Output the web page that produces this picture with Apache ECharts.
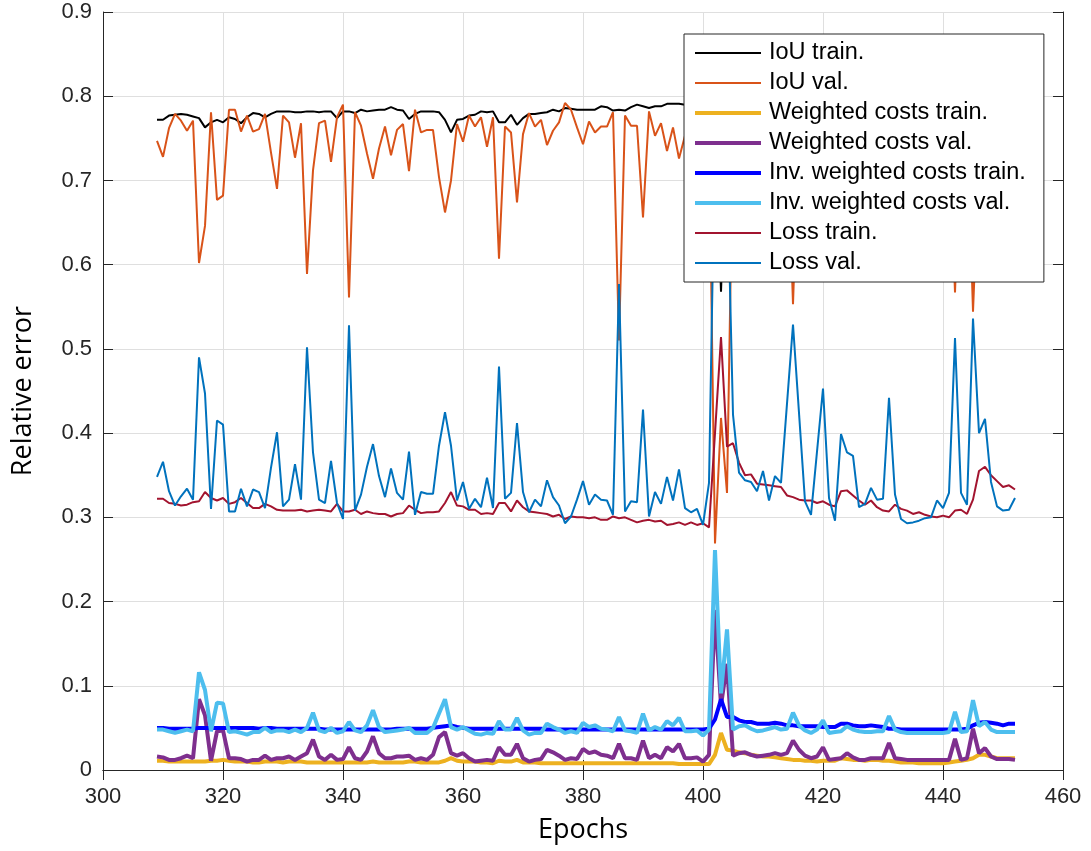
<!DOCTYPE html>
<html>

<head>
	<meta charset="utf-8">
	<title>Relative error</title>
	<script src="https://cdn.jsdelivr.net/npm/echarts@6/dist/echarts.min.js"></script>
	<style>
		html, body { margin: 0; padding: 0; background: #fff; }
		#main { width: 1091px; height: 851px; }
	</style>
</head>

<body>
	<div id="main"></div>

	<script>
		// epochs 309 .. 452
		var firstEpoch = 309;

		var iouTrain = [
			0.772, 0.772, 0.777, 0.778, 0.779, 0.778, 0.776, 0.774, 0.763, 0.769,
			0.772, 0.769, 0.775, 0.773, 0.768, 0.775, 0.780, 0.779, 0.775, 0.779,
			0.782, 0.782, 0.782, 0.781, 0.781, 0.782, 0.782, 0.781, 0.782, 0.782,
			0.774, 0.782, 0.782, 0.780, 0.784, 0.782, 0.783, 0.784, 0.784, 0.787,
			0.784, 0.783, 0.773, 0.779, 0.782, 0.782, 0.782, 0.781, 0.772, 0.757,
			0.772, 0.773, 0.777, 0.778, 0.782, 0.781, 0.782, 0.769, 0.769, 0.778,
			0.766, 0.774, 0.779, 0.779, 0.780, 0.781, 0.784, 0.782, 0.786, 0.785,
			0.784, 0.784, 0.784, 0.784, 0.788, 0.787, 0.783, 0.784, 0.783, 0.787,
			0.790, 0.788, 0.786, 0.788, 0.788, 0.791, 0.791, 0.791, 0.790, 0.792,
			0.791, 0.793, 0.790, 0.780, 0.568, 0.778, 0.785, 0.788, 0.790, 0.791,
			0.792, 0.792, 0.793, 0.791, 0.794, 0.793, 0.790, 0.794, 0.795, 0.795,
			0.794, 0.795, 0.796, 0.796, 0.793, 0.794, 0.796, 0.797, 0.796, 0.797,
			0.797, 0.798, 0.794, 0.797, 0.798, 0.798, 0.799, 0.799, 0.799, 0.800,
			0.799, 0.800, 0.800, 0.795, 0.799, 0.800, 0.794, 0.796, 0.797, 0.798,
			0.799, 0.799, 0.800, 0.800
		];
		var iouVal = [
			0.747, 0.728, 0.762, 0.779, 0.771, 0.759, 0.771, 0.602, 0.646, 0.781,
			0.677, 0.682, 0.784, 0.784, 0.758, 0.777, 0.758, 0.761, 0.779, 0.733,
			0.690, 0.777, 0.769, 0.727, 0.768, 0.589, 0.712, 0.768, 0.771, 0.722,
			0.775, 0.790, 0.561, 0.781, 0.765, 0.732, 0.702, 0.738, 0.764, 0.730,
			0.760, 0.767, 0.711, 0.784, 0.757, 0.760, 0.760, 0.704, 0.662, 0.700,
			0.767, 0.746, 0.777, 0.764, 0.775, 0.740, 0.775, 0.607, 0.764, 0.757,
			0.674, 0.755, 0.780, 0.764, 0.772, 0.742, 0.759, 0.769, 0.792, 0.784,
			0.763, 0.743, 0.770, 0.757, 0.764, 0.764, 0.781, 0.510, 0.777, 0.765,
			0.765, 0.656, 0.782, 0.753, 0.768, 0.735, 0.763, 0.726, 0.753, 0.772,
			0.748, 0.765, 0.760, 0.269, 0.418, 0.329, 0.755, 0.770, 0.742, 0.768,
			0.775, 0.738, 0.770, 0.762, 0.735, 0.772, 0.553, 0.768, 0.780, 0.745,
			0.770, 0.730, 0.776, 0.779, 0.750, 0.764, 0.772, 0.748, 0.778, 0.770,
			0.760, 0.781, 0.715, 0.774, 0.780, 0.782, 0.778, 0.783, 0.776, 0.784,
			0.770, 0.781, 0.775, 0.567, 0.770, 0.778, 0.544, 0.725, 0.741, 0.770,
			0.779, 0.781, 0.779, 0.776
		];
		var wcTrain = [
			0.011, 0.011, 0.010, 0.010, 0.010, 0.010, 0.010, 0.010, 0.010, 0.011,
			0.011, 0.012, 0.011, 0.010, 0.010, 0.010, 0.009, 0.009, 0.010, 0.010,
			0.010, 0.009, 0.010, 0.010, 0.010, 0.009, 0.009, 0.009, 0.009, 0.009,
			0.009, 0.009, 0.009, 0.009, 0.009, 0.009, 0.010, 0.009, 0.009, 0.009,
			0.009, 0.009, 0.010, 0.010, 0.009, 0.009, 0.009, 0.009, 0.011, 0.014,
			0.011, 0.010, 0.010, 0.010, 0.009, 0.009, 0.008, 0.011, 0.010, 0.010,
			0.012, 0.009, 0.009, 0.009, 0.008, 0.008, 0.008, 0.008, 0.008, 0.008,
			0.008, 0.008, 0.008, 0.008, 0.008, 0.008, 0.008, 0.008, 0.008, 0.008,
			0.008, 0.008, 0.008, 0.008, 0.008, 0.008, 0.008, 0.007, 0.007, 0.007,
			0.007, 0.007, 0.007, 0.018, 0.044, 0.024, 0.023, 0.021, 0.020, 0.018,
			0.017, 0.016, 0.016, 0.015, 0.014, 0.013, 0.012, 0.012, 0.011, 0.011,
			0.010, 0.011, 0.011, 0.011, 0.014, 0.013, 0.012, 0.012, 0.011, 0.012,
			0.012, 0.011, 0.011, 0.010, 0.009, 0.009, 0.009, 0.008, 0.008, 0.008,
			0.008, 0.008, 0.009, 0.010, 0.011, 0.012, 0.014, 0.018, 0.018, 0.016,
			0.014, 0.014, 0.014, 0.014
		];
		var wcVal = [
			0.016, 0.015, 0.012, 0.012, 0.014, 0.017, 0.014, 0.084, 0.065, 0.011,
			0.046, 0.047, 0.014, 0.014, 0.013, 0.010, 0.012, 0.012, 0.017, 0.012,
			0.014, 0.014, 0.016, 0.012, 0.016, 0.020, 0.036, 0.016, 0.012, 0.018,
			0.012, 0.013, 0.027, 0.014, 0.012, 0.022, 0.040, 0.020, 0.014, 0.014,
			0.016, 0.016, 0.017, 0.012, 0.014, 0.012, 0.018, 0.039, 0.045, 0.020,
			0.017, 0.020, 0.014, 0.010, 0.011, 0.012, 0.011, 0.027, 0.018, 0.018,
			0.031, 0.014, 0.010, 0.012, 0.013, 0.024, 0.021, 0.017, 0.012, 0.014,
			0.013, 0.025, 0.020, 0.022, 0.018, 0.017, 0.014, 0.031, 0.014, 0.014,
			0.012, 0.035, 0.014, 0.018, 0.014, 0.027, 0.022, 0.031, 0.014, 0.014,
			0.015, 0.010, 0.018, 0.190, 0.077, 0.126, 0.017, 0.020, 0.021, 0.018,
			0.016, 0.017, 0.018, 0.020, 0.018, 0.020, 0.035, 0.024, 0.017, 0.014,
			0.016, 0.027, 0.012, 0.013, 0.014, 0.020, 0.015, 0.012, 0.012, 0.014,
			0.014, 0.014, 0.032, 0.014, 0.013, 0.012, 0.012, 0.012, 0.012, 0.012,
			0.012, 0.012, 0.012, 0.037, 0.012, 0.014, 0.049, 0.020, 0.026, 0.016,
			0.013, 0.013, 0.013, 0.012
		];
		var invTrain = [
			0.050, 0.050, 0.049, 0.049, 0.049, 0.049, 0.049, 0.050, 0.050, 0.050,
			0.050, 0.050, 0.050, 0.050, 0.050, 0.050, 0.050, 0.049, 0.050, 0.050,
			0.049, 0.049, 0.049, 0.049, 0.049, 0.049, 0.049, 0.049, 0.048, 0.048,
			0.048, 0.048, 0.048, 0.048, 0.048, 0.048, 0.048, 0.048, 0.048, 0.048,
			0.049, 0.049, 0.049, 0.049, 0.049, 0.049, 0.050, 0.051, 0.052, 0.053,
			0.051, 0.050, 0.049, 0.049, 0.049, 0.049, 0.049, 0.049, 0.049, 0.049,
			0.049, 0.049, 0.049, 0.049, 0.049, 0.048, 0.048, 0.048, 0.048, 0.048,
			0.048, 0.048, 0.048, 0.048, 0.048, 0.048, 0.048, 0.048, 0.048, 0.048,
			0.048, 0.048, 0.048, 0.048, 0.048, 0.048, 0.048, 0.048, 0.048, 0.048,
			0.048, 0.048, 0.049, 0.060, 0.084, 0.063, 0.063, 0.059, 0.057, 0.057,
			0.055, 0.055, 0.055, 0.056, 0.055, 0.053, 0.053, 0.052, 0.052, 0.052,
			0.052, 0.051, 0.051, 0.051, 0.055, 0.055, 0.053, 0.052, 0.052, 0.053,
			0.052, 0.051, 0.049, 0.049, 0.048, 0.048, 0.048, 0.048, 0.048, 0.048,
			0.048, 0.048, 0.048, 0.048, 0.048, 0.049, 0.053, 0.056, 0.057, 0.056,
			0.055, 0.053, 0.055, 0.055
		];
		var invVal = [
			0.048, 0.048, 0.046, 0.044, 0.046, 0.048, 0.046, 0.116, 0.095, 0.046,
			0.080, 0.079, 0.045, 0.046, 0.044, 0.042, 0.045, 0.045, 0.050, 0.045,
			0.047, 0.047, 0.045, 0.048, 0.045, 0.050, 0.068, 0.047, 0.045, 0.050,
			0.044, 0.046, 0.057, 0.047, 0.045, 0.053, 0.071, 0.051, 0.045, 0.046,
			0.047, 0.048, 0.050, 0.044, 0.044, 0.044, 0.050, 0.067, 0.084, 0.051,
			0.048, 0.051, 0.047, 0.043, 0.042, 0.044, 0.043, 0.058, 0.048, 0.048,
			0.062, 0.047, 0.042, 0.044, 0.044, 0.055, 0.051, 0.048, 0.044, 0.046,
			0.044, 0.056, 0.051, 0.053, 0.049, 0.048, 0.046, 0.063, 0.047, 0.046,
			0.044, 0.067, 0.047, 0.051, 0.048, 0.058, 0.053, 0.062, 0.046, 0.046,
			0.047, 0.041, 0.048, 0.261, 0.091, 0.167, 0.048, 0.052, 0.053, 0.049,
			0.046, 0.047, 0.049, 0.051, 0.048, 0.049, 0.068, 0.053, 0.047, 0.044,
			0.048, 0.059, 0.044, 0.045, 0.046, 0.052, 0.048, 0.046, 0.045, 0.045,
			0.046, 0.046, 0.064, 0.048, 0.045, 0.044, 0.044, 0.044, 0.044, 0.044,
			0.044, 0.044, 0.045, 0.069, 0.045, 0.046, 0.083, 0.052, 0.057, 0.048,
			0.045, 0.045, 0.045, 0.045
		];
		var lossTrain = [
			0.322, 0.322, 0.317, 0.316, 0.314, 0.315, 0.318, 0.319, 0.330, 0.323,
			0.320, 0.323, 0.316, 0.318, 0.323, 0.317, 0.311, 0.311, 0.316, 0.313,
			0.309, 0.308, 0.308, 0.308, 0.309, 0.307, 0.308, 0.309, 0.308, 0.307,
			0.316, 0.307, 0.307, 0.309, 0.304, 0.307, 0.305, 0.304, 0.304, 0.301,
			0.304, 0.305, 0.314, 0.309, 0.305, 0.306, 0.306, 0.307, 0.317, 0.330,
			0.314, 0.313, 0.309, 0.309, 0.304, 0.305, 0.304, 0.317, 0.317, 0.307,
			0.320, 0.312, 0.307, 0.306, 0.305, 0.304, 0.301, 0.303, 0.298, 0.301,
			0.300, 0.300, 0.299, 0.300, 0.297, 0.297, 0.301, 0.299, 0.300, 0.297,
			0.294, 0.296, 0.297, 0.295, 0.296, 0.291, 0.292, 0.294, 0.291, 0.294,
			0.291, 0.293, 0.288, 0.400, 0.514, 0.384, 0.388, 0.365, 0.350, 0.351,
			0.340, 0.339, 0.338, 0.337, 0.336, 0.326, 0.324, 0.321, 0.320, 0.320,
			0.317, 0.319, 0.315, 0.313, 0.331, 0.332, 0.326, 0.320, 0.315, 0.320,
			0.312, 0.308, 0.307, 0.315, 0.310, 0.308, 0.304, 0.306, 0.303, 0.301,
			0.300, 0.302, 0.300, 0.308, 0.309, 0.304, 0.321, 0.355, 0.360, 0.350,
			0.343, 0.336, 0.338, 0.333
		];
		var lossVal = [
			0.348, 0.366, 0.331, 0.314, 0.325, 0.334, 0.321, 0.490, 0.447, 0.310,
			0.415, 0.410, 0.307, 0.307, 0.334, 0.313, 0.333, 0.330, 0.311, 0.359,
			0.401, 0.313, 0.321, 0.363, 0.321, 0.502, 0.377, 0.321, 0.317, 0.367,
			0.317, 0.298, 0.528, 0.308, 0.327, 0.360, 0.387, 0.349, 0.324, 0.358,
			0.329, 0.321, 0.378, 0.303, 0.330, 0.328, 0.328, 0.385, 0.425, 0.385,
			0.320, 0.342, 0.310, 0.322, 0.312, 0.347, 0.311, 0.479, 0.322, 0.329,
			0.412, 0.330, 0.306, 0.321, 0.313, 0.344, 0.324, 0.314, 0.293, 0.301,
			0.321, 0.343, 0.315, 0.327, 0.321, 0.320, 0.303, 0.577, 0.307, 0.319,
			0.318, 0.428, 0.301, 0.330, 0.316, 0.348, 0.320, 0.357, 0.311, 0.306,
			0.310, 0.291, 0.341, 0.750, 0.660, 0.720, 0.422, 0.353, 0.344, 0.342,
			0.331, 0.355, 0.320, 0.349, 0.341, 0.435, 0.529, 0.424, 0.319, 0.303,
			0.378, 0.453, 0.323, 0.296, 0.399, 0.377, 0.373, 0.312, 0.316, 0.335,
			0.321, 0.322, 0.442, 0.327, 0.298, 0.293, 0.294, 0.296, 0.299, 0.300,
			0.320, 0.311, 0.329, 0.513, 0.329, 0.315, 0.536, 0.400, 0.417, 0.342,
			0.313, 0.308, 0.309, 0.323
		];

		var seriesNames = ['IoU train.', 'IoU val.', 'Weighted costs train.', 'Weighted costs val.',
			'Inv. weighted costs train.', 'Inv. weighted costs val.', 'Loss train.', 'Loss val.'];
		var seriesColors = ['#000000', '#D95319', '#EDB120', '#7E2F8E', '#0000FF', '#4DBEEE', '#A2142F', '#0072BD'];
		var seriesWidths = [2, 2, 4, 4, 4, 4, 2, 2];
		var seriesData = [iouTrain, iouVal, wcTrain, wcVal, invTrain, invVal, lossTrain, lossVal];

		var axisColor = '#262626';
		var tickFont = 'Liberation Sans, Arial, sans-serif';

		var series = [];
		var legendData = [];
		for (var i = 0; i < seriesData.length; i++) {
			var pts = [];
			for (var j = 0; j < seriesData[i].length; j++) {
				pts.push([firstEpoch + j, seriesData[i][j]]);
			}
			series.push({
				name: seriesNames[i],
				type: 'line',
				data: pts,
				symbol: 'none',
				xAxisIndex: 0,
				yAxisIndex: 0,
				lineStyle: { color: seriesColors[i], width: seriesWidths[i] },
				itemStyle: { color: seriesColors[i] }
			});
			legendData.push({
				name: seriesNames[i],
				lineStyle: { color: seriesColors[i], width: seriesWidths[i] }
			});
		}

		var chart = echarts.init(document.getElementById('main'));
		chart.setOption({
			animation: false,
			backgroundColor: '#fff',
			grid: { left: 103, top: 12, width: 960, height: 758 },
			legend: {
				orient: 'vertical',
				left: 684,
				top: 34,
				padding: [7, 18, 7, 9],
				itemGap: 6,
				itemWidth: 66,
				itemHeight: 24,
				backgroundColor: '#fff',
				borderColor: axisColor,
				borderWidth: 1,
				// only the line sample, no marker
				itemStyle: { opacity: 0 },
				textStyle: {
					fontFamily: tickFont, fontSize: 23.5, lineHeight: 24, color: '#000',
					padding: [0, 0, 0, 3]
				},
				data: legendData
			},
			xAxis: [{
				type: 'value', min: 300, max: 460, interval: 20, position: 'bottom',
				name: 'Epochs', nameLocation: 'middle', nameGap: 47,
				nameTextStyle: { fontFamily: 'Open Sans', fontSize: 27, color: '#000' },
				axisLine: { show: true, onZero: false, lineStyle: { color: axisColor, width: 1 } },
				axisTick: { show: true, inside: true, length: 10, lineStyle: { color: axisColor } },
				axisLabel: { fontFamily: tickFont, fontSize: 22, color: axisColor, margin: 16 },
				splitLine: { show: true, lineStyle: { color: '#dfdfdf', width: 1 } }
			}, {
				type: 'value', min: 300, max: 460, interval: 20, position: 'top',
				axisLine: { show: true, lineStyle: { color: axisColor, width: 1 } },
				axisTick: { show: true, inside: true, length: 10, lineStyle: { color: axisColor } },
				axisLabel: { show: false },
				splitLine: { show: false }
			}],
			yAxis: [{
				type: 'value', min: 0, max: 0.9, interval: 0.1, position: 'left',
				name: 'Relative error', nameLocation: 'middle', nameGap: 66,
				nameTextStyle: { fontFamily: 'Open Sans', fontSize: 27, color: '#000' },
				axisLine: { show: true, lineStyle: { color: axisColor, width: 1 } },
				axisTick: { show: true, inside: true, length: 10, lineStyle: { color: axisColor } },
				axisLabel: { fontFamily: tickFont, fontSize: 22, color: axisColor, margin: 11 },
				splitLine: { show: true, lineStyle: { color: '#dfdfdf', width: 1 } }
			}, {
				type: 'value', min: 0, max: 0.9, interval: 0.1, position: 'right',
				axisLine: { show: true, lineStyle: { color: axisColor, width: 1 } },
				axisTick: { show: true, inside: true, length: 10, lineStyle: { color: axisColor } },
				axisLabel: { show: false },
				splitLine: { show: false }
			}],
			series: series
		});
	</script>
</body>

</html>
